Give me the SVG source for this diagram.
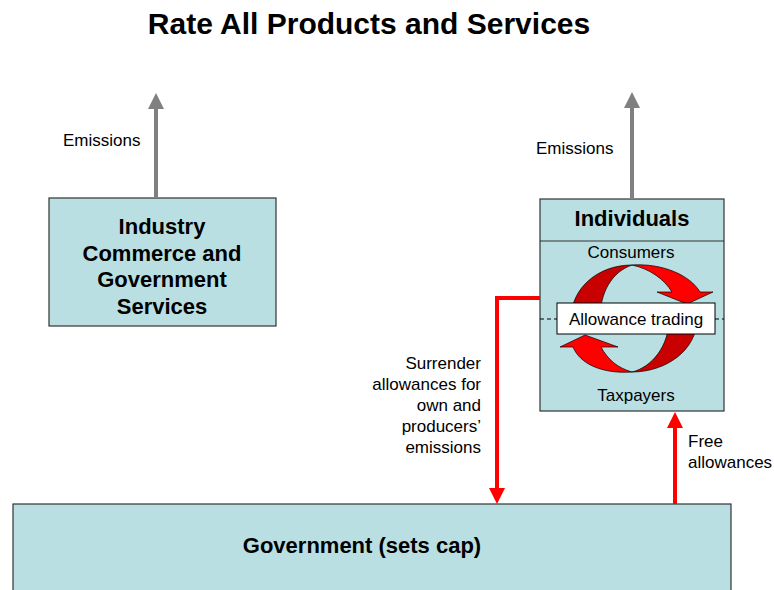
<svg xmlns="http://www.w3.org/2000/svg" width="774" height="590" viewBox="0 0 774 590">
<style>
.box{fill:#b9dfe2;stroke:#333;stroke-width:1.2}
.t{font-family:"Liberation Sans",Arial,sans-serif;fill:#000}
.b{font-weight:bold;font-size:22px}
.r{font-size:17px}
.gray{stroke:#808080;stroke-width:4;fill:none}
.red{stroke:#ff0000;stroke-width:4;fill:none}
.dk{fill:#c80000;stroke:#000;stroke-width:0.7}
.br{fill:#ff0000;stroke:#000;stroke-width:0.7}
</style>
<defs>
<marker id="ag" markerUnits="userSpaceOnUse" viewBox="0 0 16 16" refX="0" refY="8" markerWidth="16" markerHeight="16" orient="auto"><path d="M0,0 L16,8 L0,16 Z" fill="#808080"/></marker>
<marker id="ar" markerUnits="userSpaceOnUse" viewBox="0 0 16 16" refX="0" refY="8" markerWidth="16" markerHeight="16" orient="auto"><path d="M0,0 L16,8 L0,16 Z" fill="#ff0000"/></marker>
</defs>
<rect width="774" height="590" fill="#fff"/>
<text class="t" x="369" y="34" text-anchor="middle" font-size="30" font-weight="bold">Rate All Products and Services</text>

<g id="industry">
<rect class="box" x="49" y="198" width="227" height="128"/>
<text class="t b" text-anchor="middle" x="162" y="234">Industry</text>
<text class="t b" text-anchor="middle" x="162" y="260.5">Commerce and</text>
<text class="t b" text-anchor="middle" x="162" y="287">Government</text>
<text class="t b" text-anchor="middle" x="162" y="313.5">Services</text>
</g>

<g id="individuals">
<rect class="box" x="540" y="199" width="184" height="212"/>
<line x1="540" y1="241" x2="724" y2="241" stroke="#333" stroke-width="1.2"/>
<text class="t b" text-anchor="middle" x="632" y="226">Individuals</text>
<text class="t r" text-anchor="middle" x="631" y="258">Consumers</text>
<text class="t r" text-anchor="middle" x="636" y="401">Taxpayers</text>
<line x1="540" y1="319" x2="724" y2="319" stroke="#000" stroke-width="1" stroke-dasharray="4,3"/>
<path class="dk" d="M632,265 C598,265 571,288 571,319 L600,319 C600,292 612,272 632,265 Z"/>
<path class="br" d="M632,265 C662,263 690,275 700,292 L713,292 L687,304 L657,292 L672,292 C664,279 650,269 632,265 Z"/>
<path class="dk" d="M632,372 C666,372 697,350 697,319 L669,319 C669,346 652,367 632,372 Z"/>
<path class="br" d="M632,372 C602,374 580,364 573,347 L560,347 L585,335 L618,347 L601,347 C608,360 618,368 632,372 Z"/>
<rect x="557" y="303" width="158" height="31" fill="#fff" stroke="#000" stroke-width="1"/>
<text class="t r" text-anchor="middle" x="636" y="325">Allowance trading</text>
</g>

<g id="government">
<rect class="box" x="13" y="504" width="718" height="100"/>
<text class="t b" text-anchor="middle" x="362" y="553">Government (sets cap)</text>
</g>

<g id="connectors">
<line class="gray" x1="156" y1="198" x2="156" y2="109" marker-end="url(#ag)"/>
<line class="gray" x1="632" y1="199" x2="632" y2="108" marker-end="url(#ag)"/>
<path class="red" d="M540,298 H497 V488" marker-end="url(#ar)"/>
<line class="red" x1="675" y1="504" x2="675" y2="428" marker-end="url(#ar)"/>
</g>

<g id="labels">
<text class="t r" x="63" y="146">Emissions</text>
<text class="t r" x="536" y="154">Emissions</text>
<text class="t r" text-anchor="end" x="481" y="369">Surrender</text>
<text class="t r" text-anchor="end" x="481" y="390">allowances for</text>
<text class="t r" text-anchor="end" x="481" y="411">own and</text>
<text class="t r" text-anchor="end" x="481" y="432">producers’</text>
<text class="t r" text-anchor="end" x="481" y="453">emissions</text>
<text class="t r" x="688" y="447">Free</text>
<text class="t r" x="688" y="468">allowances</text>
</g>
</svg>
